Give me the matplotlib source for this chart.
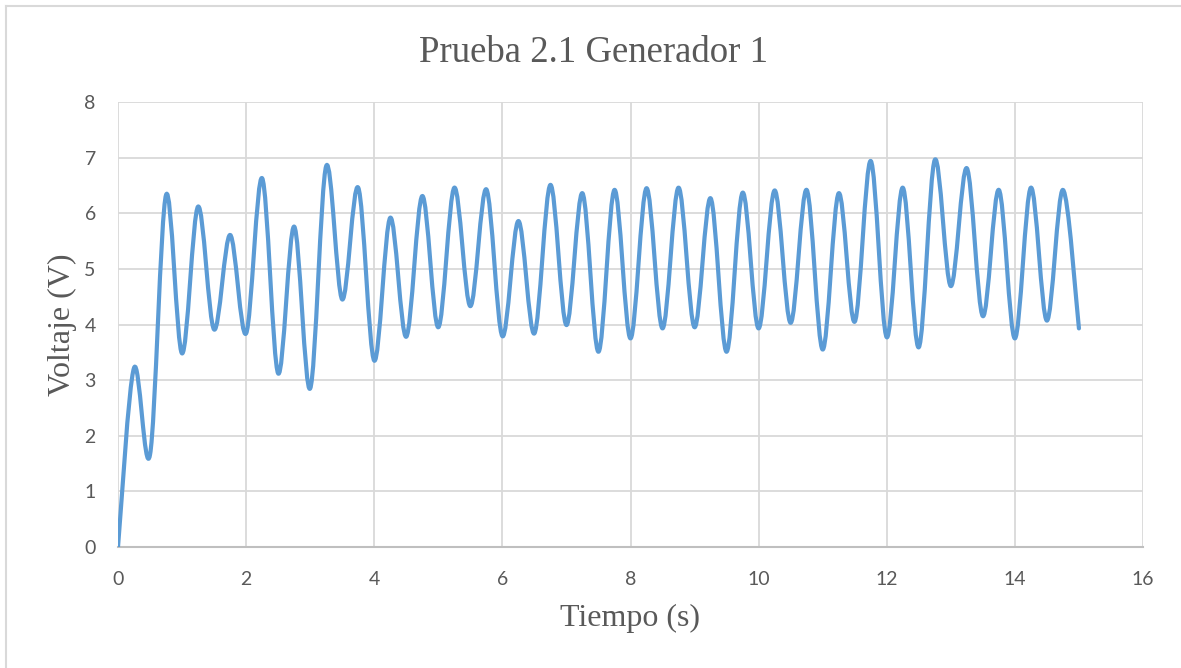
import numpy as np
import matplotlib
matplotlib.use("Agg")
import matplotlib.pyplot as plt
from matplotlib.path import Path
from matplotlib.patches import PathPatch
from matplotlib.lines import Line2D

# Sampled generator voltage, one reading every 0.25 s
tiempo = [0.0, 0.25, 0.5, 0.75, 1.0, 1.25, 1.5, 1.75, 2.0, 2.25, 2.5, 2.75,
          3.0, 3.25, 3.5, 3.75, 4.0, 4.25, 4.5, 4.75, 5.0, 5.25, 5.5, 5.75,
          6.0, 6.25, 6.5, 6.75, 7.0, 7.25, 7.5, 7.75, 8.0, 8.25, 8.5, 8.75,
          9.0, 9.25, 9.5, 9.75, 10.0, 10.25, 10.5, 10.75, 11.0, 11.25, 11.5,
          11.75, 12.0, 12.25, 12.5, 12.75, 13.0, 13.25, 13.5, 13.75, 14.0,
          14.25, 14.5, 14.75, 15.0]
voltaje = [0.0, 3.22, 1.66, 6.33, 3.48, 6.12, 3.91, 5.61, 3.84, 6.63, 3.12, 5.76,
           2.85, 6.85, 4.45, 6.46, 3.35, 5.92, 3.78, 6.31, 3.95, 6.46, 4.33, 6.43,
           3.79, 5.86, 3.84, 6.51, 3.99, 6.36, 3.51, 6.42, 3.75, 6.45, 3.93, 6.46,
           3.95, 6.27, 3.51, 6.37, 3.93, 6.41, 4.03, 6.42, 3.55, 6.36, 4.05,
           6.94, 3.77, 6.46, 3.59, 6.96, 4.69, 6.81, 4.15, 6.42, 3.75,
           6.46, 4.07, 6.42, 3.93]

x_ticks = [0, 2, 4, 6, 8, 10, 12, 14, 16]
y_ticks = [0, 1, 2, 3, 4, 5, 6, 7, 8]

titulo = "Prueba 2.1 Generador 1"
etiqueta_x = "Tiempo (s)"
etiqueta_y = "Voltaje (V)"

LINE_COLOR = "#5B9BD5"
TEXT_COLOR = "#595959"
GRID_COLOR = "#D9D9D9"
SERIF = ["Liberation Serif", "DejaVu Serif"]
SANS = ["Lato", "DejaVu Sans"]


def smooth_path(xs, ys):
    """Cubic Bezier path through the samples (spreadsheet-style smoothed line)."""
    pts = np.column_stack([xs, ys]).astype(float)
    n = len(pts)
    verts = [pts[0]]
    codes = [Path.MOVETO]
    for i in range(n - 1):
        p0 = pts[i - 1] if i > 0 else pts[i]
        p1 = pts[i]
        p2 = pts[i + 1]
        p3 = pts[i + 2] if i + 2 < n else pts[i + 1]
        c1 = p1 + (p2 - p0) / 6.0
        c2 = p2 - (p3 - p1) / 6.0
        verts.extend([c1, c2, p2])
        codes.extend([Path.CURVE4] * 3)
    return Path(verts, codes)


fig = plt.figure(figsize=(11.81, 6.68), dpi=100)
fig.patch.set_facecolor("white")
ax = fig.add_axes([118 / 1181, 1 - 547 / 668, (1143 - 118) / 1181, (547 - 102) / 668])

ax.add_patch(PathPatch(smooth_path(tiempo, voltaje), facecolor="none",
                       edgecolor=LINE_COLOR, linewidth=3.0,
                       capstyle="round", joinstyle="round", zorder=3))

ax.set_xlim(x_ticks[0], x_ticks[-1])
ax.set_ylim(y_ticks[0], y_ticks[-1])
ax.set_xticks(x_ticks)
ax.set_yticks(y_ticks)
ax.set_xticklabels([str(v) for v in x_ticks], fontfamily=SANS, fontsize=14, color=TEXT_COLOR)
ax.set_yticklabels([str(v) for v in y_ticks], fontfamily=SANS, fontsize=14, color=TEXT_COLOR)
ax.tick_params(axis="both", length=0)
ax.tick_params(axis="x", pad=17)
ax.tick_params(axis="y", pad=16)

ax.grid(True, color=GRID_COLOR, linewidth=1.3)
ax.set_axisbelow(True)
for side in ("top", "right", "left"):
    ax.spines[side].set_visible(False)
ax.spines["bottom"].set_color("#BFBFBF")
ax.spines["bottom"].set_linewidth(1.5)
ax.spines["bottom"].set_zorder(2.5)

ax.set_xlabel(etiqueta_x, fontfamily=SERIF, fontsize=23, color=TEXT_COLOR, labelpad=12)
ax.set_ylabel(etiqueta_y, fontfamily=SERIF, fontsize=23, color=TEXT_COLOR, labelpad=5)

fig.text(594 / 1181, 1 - 62 / 668, titulo, fontfamily=SERIF, fontsize=26.5,
         color=TEXT_COLOR, ha="center", va="baseline")

# Chart area frame (left and top edges)
fig.add_artist(Line2D([5.5 / 1181, 5.5 / 1181], [0, 1 - 5.5 / 668],
                      transform=fig.transFigure, color="#D9D9D9", linewidth=1.5))
fig.add_artist(Line2D([5.5 / 1181, 1], [1 - 5.5 / 668, 1 - 5.5 / 668],
                      transform=fig.transFigure, color="#D9D9D9", linewidth=1.5))

fig.savefig("out.png", dpi=100, facecolor="white")
